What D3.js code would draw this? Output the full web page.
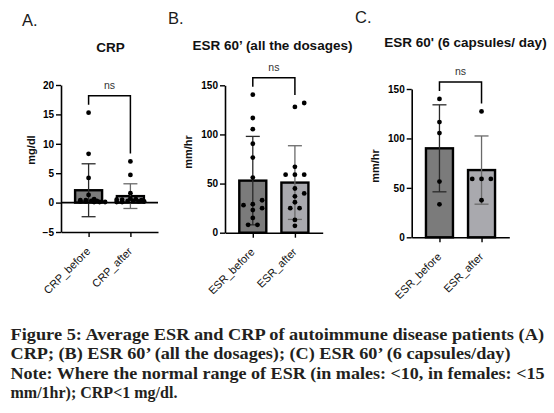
<!DOCTYPE html>
<html><head><meta charset="utf-8">
<script src="https://cdn.jsdelivr.net/npm/d3@7"></script>
<style>
html,body{margin:0;padding:0;background:#fff;}
svg{display:block;}
</style></head>
<body>
<script>
// ---------- DATA ----------
const crpCats = ["CRP_before", "CRP_after"];
const crpMeans = [2.1, 1.1];
const crpSD = [4.5, 2.1];
const crpBefore = [15.3, 8.3, 4.2, 1.3, 0.6, 0.4, 0.4, 0.3, 0.3, 0.2, 0.2, 0.1, 0.1, 0.1];
const crpAfter = [7.0, 4.7, 1.6, 0.7, 0.6, 0.5, 0.5, 0.4, 0.3, 0.3, 0.2, 0.2, 0.1, 0.1];
const crpTicks = [-5, 0, 5, 10, 15, 20];

const esrCats = ["ESR_before", "ESR_after"];
const esrAllMeans = [53, 51];
const esrAllSD = [45, 37.5];
const esrAllBefore = [140.5, 116.7, 105.4, 90.5, 76.5, 56.1, 29, 33, 28, 25, 23, 15, 8, 8];
const esrAllAfter = [128, 132, 67, 59, 59, 59, 45, 40, 37, 31, 25, 25, 13, 7];

const esr6Means = [90, 68];
const esr6SD = [44, 34.5];
const esr6Before = [140, 116.5, 105.4, 56.4, 33.4];
const esr6After = [127.3, 59, 59, 59, 37.5];
const esrTicks = [0, 50, 100, 150];

const panelLetters = ["A.", "B.", "C."];
const panelTitles = ["CRP", "ESR 60\u2019 (all the dosages)", "ESR 60' (6 capsules/ day)"];
const yTitles = ["mg/dl", "mm/hr", "mm/hr"];
const sigLabel = "ns";

const captionLines = [
  "Figure 5: Average ESR and CRP of autoimmune disease patients (A)",
  "CRP; (B) ESR 60\u2019 (all the dosages); (C) ESR 60\u2019 (6 capsules/day)",
  "Note: Where the normal range of ESR (in males: <10, in females: <15",
  "mm/1hr); CRP<1 mg/dl."
];

// ---------- LAYOUT ----------
const W = 554, H = 413;
const svg = d3.select("body").append("svg").attr("width", W).attr("height", H);

const panels = [
  {cats: crpCats, means: crpMeans, sd: crpSD, pts: [crpBefore, crpAfter], ticks: crpTicks,
   dom: [-5, 20], x0: 61, x1: 158, yB: 232, yT: 85, step: 5.5,
   letter: {x: 22, y: 25.5}, title: {x: 110.5, y: 52}, yt: {x: 31, y: 150}, zeroLine: true},
  {cats: esrCats, means: esrAllMeans, sd: esrAllSD, pts: [esrAllBefore, esrAllAfter], ticks: esrTicks,
   dom: [0, 150], x0: 225, x1: 322.7, yB: 232.7, yT: 85.3, step: 9.3,
   letter: {x: 168, y: 23.5}, title: {x: 272.5, y: 49.5}, yt: {x: 188.5, y: 152}},
  {cats: esrCats, means: esr6Means, sd: esr6SD, pts: [esr6Before, esr6After], ticks: esrTicks,
   dom: [0, 150], x0: 411.7, x1: 509.3, yB: 237.3, yT: 89, step: 9.3,
   letter: {x: 355, y: 22.5}, title: {x: 465.5, y: 47}, yt: {x: 375.5, y: 166}}
];

const barFill = ["#7b7b7b", "#a9a9ae"];
const errCol = ["#2a2a2a", "#6a6a6a"];
const sans = "'Liberation Sans', Arial, Helvetica, sans-serif";

function swarm(values, y, s, D) {
  // deterministic arrangement: equal values form centred rows, others avoid collisions
  const placed = [];
  const done = new Array(values.length).fill(false);
  const cand = [0, s, -s, 2 * s, -2 * s];
  values.forEach((v, i) => {
    if (done[i]) return;
    const group = [];
    values.forEach((w, j) => { if (!done[j] && w === v) { group.push(j); done[j] = true; } });
    const n = group.length;
    let best = null, bestScore = -Infinity;
    for (const base of cand) {
      const xs = group.map((_, k) => base + (k - (n - 1) / 2) * s);
      let minD = Infinity;
      xs.forEach(xo => placed.forEach(p => {
        const d = Math.hypot(p.dx - xo, p.py - y(v));
        if (d < minD) minD = d;
      }));
      if (minD >= D) { best = xs; break; }
      if (minD > bestScore) { bestScore = minD; best = xs; }
    }
    best.forEach((xo) => placed.push({dx: xo, py: y(v), v: v}));
  });
  return placed;
}

panels.forEach((p, pi) => {
  const g = svg.append("g");
  const x = d3.scalePoint().domain(p.cats).range([p.x0, p.x1]).padding(0.66);
  const y = d3.scaleLinear().domain(p.dom).range([p.yB, p.yT]);
  const bw = 27;

  // letter + title
  svg.append("text").attr("x", p.letter.x).attr("y", p.letter.y)
    .style("font-family", sans).style("font-size", "16.5px").attr("fill", "#1a1a1a").text(panelLetters[pi]);
  svg.append("text").attr("x", p.title.x).attr("y", p.title.y).attr("text-anchor", "middle")
    .style("font-family", sans).style("font-size", "13.5px").style("font-weight", "bold")
    .attr("fill", "#111").text(panelTitles[pi]);
  svg.append("text").attr("transform", `translate(${p.yt.x},${p.yt.y}) rotate(-90)`)
    .attr("text-anchor", "middle").attr("dy", "0.35em")
    .style("font-family", sans).style("font-size", "11px").style("font-weight", "bold")
    .attr("fill", "#111").text(yTitles[pi]);

  // bars
  const base = p.dom[0] < 0 ? 0 : p.dom[0];
  g.selectAll("rect.bar").data(p.cats).join("rect").attr("class", "bar")
    .attr("x", d => x(d) - bw / 2).attr("width", bw)
    .attr("y", (d, i) => y(p.means[i]))
    .attr("height", (d, i) => Math.abs(y(base) - y(p.means[i])))
    .attr("fill", (d, i) => barFill[i]).attr("stroke", "#000").attr("stroke-width", 2.4);

  // error bars
  p.cats.forEach((c, i) => {
    const cx = x(c), hi = y(p.means[i] + p.sd[i]), lo = y(p.means[i] - p.sd[i]);
    const eg = g.append("g").attr("stroke", errCol[i]).attr("stroke-width", 1.3);
    eg.append("line").attr("x1", cx).attr("x2", cx).attr("y1", hi).attr("y2", lo);
    eg.append("line").attr("x1", cx - 7).attr("x2", cx + 7).attr("y1", hi).attr("y2", hi);
    eg.append("line").attr("x1", cx - 7).attr("x2", cx + 7).attr("y1", lo).attr("y2", lo);
  });

  // points
  p.cats.forEach((c, i) => {
    const arr = swarm(p.pts[i], y, p.step, 5.2);
    g.selectAll(null).data(arr).join("circle")
      .attr("cx", d => x(c) + d.dx).attr("cy", d => d.py).attr("r", 2.4).attr("fill", "#000");
  });

  // zero line
  if (p.zeroLine) {
    g.append("line").attr("x1", p.x0).attr("x2", p.x1).attr("y1", y(0)).attr("y2", y(0))
      .attr("stroke", "#000").attr("stroke-width", 1.6);
  }

  // axes
  const ya = g.append("g").attr("transform", `translate(${p.x0},0)`)
    .call(d3.axisLeft(y).tickValues(p.ticks).tickSize(5).tickSizeOuter(0).tickPadding(2));
  ya.select(".domain").attr("stroke", "#000").attr("stroke-width", 1.6);
  ya.selectAll(".tick line").attr("stroke", "#000").attr("stroke-width", 1.4);
  ya.selectAll(".tick text").style("font-family", sans).style("font-size", "10px")
    .style("font-weight", "bold").attr("fill", "#000");

  const xa = g.append("g").attr("transform", `translate(0,${p.yB})`)
    .call(d3.axisBottom(x).tickSize(5).tickSizeOuter(0));
  xa.select(".domain").attr("stroke", "#000").attr("stroke-width", 1.6);
  xa.selectAll(".tick line").attr("stroke", "#000").attr("stroke-width", 1.4);
  xa.selectAll(".tick text").attr("x", 0).attr("y", 0).attr("dy", 0)
    .attr("transform", "translate(2,20) rotate(-45)").style("text-anchor", "end")
    .style("font-family", sans).style("font-size", "11px").attr("fill", "#111");

  // significance bracket
  const maxY = i => y(Math.max(d3.max(p.pts[i]), p.means[i] + p.sd[i]));
  const legs = p.cats.map((c, i) => maxY(i) - 8);
  const top = Math.min(...legs) - 9;
  const xa0 = x(p.cats[0]), xa1 = x(p.cats[1]);
  g.append("path").attr("d", `M${xa0},${legs[0]}V${top}H${xa1}V${legs[1]}`)
    .attr("fill", "none").attr("stroke", "#000").attr("stroke-width", 1.5);
  g.append("text").attr("x", (xa0 + xa1) / 2).attr("y", top - 7).attr("text-anchor", "middle")
    .style("font-family", sans).style("font-size", "10.5px").attr("fill", "#333").text(sigLabel);
});

// caption
const capWidths = [533.5, 500, 534, null];
const cap = svg.append("g");
captionLines.forEach((t, i) => {
  const tx = cap.append("text").attr("x", 10.5).attr("y", 339.5 + i * 19.5)
    .style("font-family", "'Liberation Serif', 'Times New Roman', serif")
    .style("font-size", "16px").style("font-weight", "bold").attr("fill", "#231f20").text(t);
  if (capWidths[i]) tx.attr("textLength", capWidths[i]).attr("lengthAdjust", "spacingAndGlyphs");
});
</script>
</body></html>
